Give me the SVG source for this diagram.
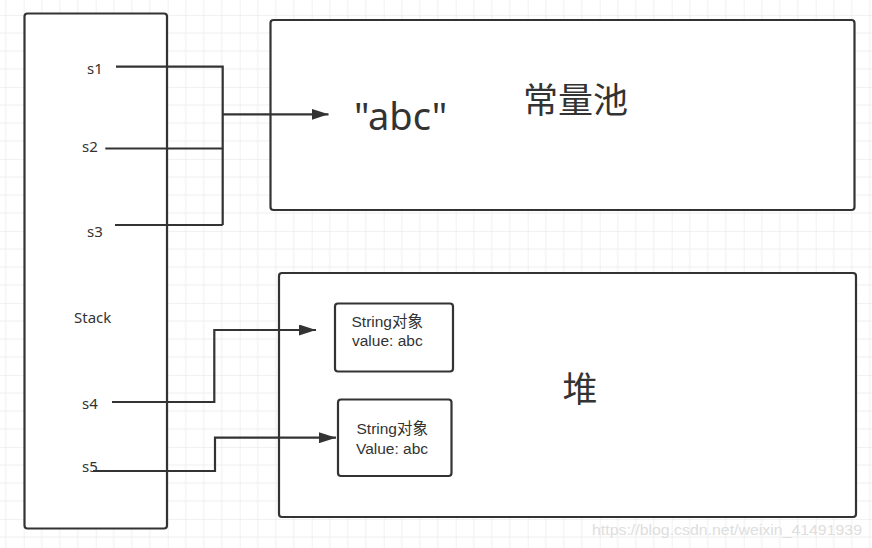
<svg xmlns="http://www.w3.org/2000/svg" width="872" height="548" viewBox="0 0 872 548">
  <defs>
    <pattern id="grid" patternUnits="userSpaceOnUse" x="23.7" y="15" width="72" height="72">
      <path d="M18,0 V72 M36,0 V72 M54,0 V72 M0,18 H72 M0,36 H72 M0,54 H72" stroke="#efefef" stroke-width="1" fill="none"/>
      <path d="M0,0 V72 M0,0 H72" stroke="#e3e3e3" stroke-width="1" fill="none"/>
    </pattern>
    <marker id="arrow" markerUnits="userSpaceOnUse" markerWidth="17" markerHeight="11" refX="17" refY="5.5" orient="auto">
      <path d="M0,0 L17,5.5 L0,11 Z" fill="#333333"/>
    </marker>
  </defs>
  <style>
    .box { fill: #ffffff; stroke: #333333; stroke-width: 2.2; }
    .t { font-family: "Noto Sans", "Noto Sans CJK SC", sans-serif; fill: #333333; }
    .lbl { font-size: 15px; }
    .obj { font-family: "Liberation Sans", "Noto Sans CJK SC", sans-serif; font-size: 15.5px; fill: #333333; }
    .conn { fill: none; stroke: #333333; stroke-width: 2.2; }
  </style>
  <rect x="0" y="0" width="872" height="548" fill="#ffffff"/>
  <rect x="0" y="0" width="872" height="548" fill="url(#grid)"/>

  <g id="stack">
    <rect class="box" x="24.5" y="13.5" width="142.5" height="515" rx="3"/>
    <text class="t lbl" x="74" y="322.5">Stack</text>
    <text class="t lbl" x="87" y="74">s1</text>
    <text class="t lbl" x="82" y="152">s2</text>
    <text class="t lbl" x="87" y="237">s3</text>
    <text class="t lbl" x="82" y="408.5">s4</text>
    <text class="t lbl" x="82" y="472">s5</text>
  </g>

  <g id="constant-pool">
    <rect class="box" x="270.5" y="20" width="584" height="190" rx="3"/>
    <text class="t" x="575.5" y="113" font-size="35" text-anchor="middle">常量池</text>
    <text class="t" x="354" y="130" font-size="38">"abc"</text>
  </g>

  <g id="heap">
    <rect class="box" x="279" y="273" width="577" height="244" rx="3"/>
    <text class="t" x="580" y="402" font-size="35" text-anchor="middle">堆</text>
  </g>

  <g id="string-object-1">
    <rect class="box" x="335" y="303.5" width="118" height="68" rx="3"/>
    <text class="obj" x="351.5" y="326.5">String对象</text>
    <text class="obj" x="352" y="346">value: abc</text>
  </g>

  <g id="string-object-2">
    <rect class="box" x="338" y="399.5" width="113.5" height="76.5" rx="3"/>
    <text class="obj" x="356.5" y="433.5">String对象</text>
    <text class="obj" x="356" y="453.5">Value: abc</text>
  </g>

  <g id="connectors">
    <path class="conn" d="M116,66.7 H222.7 V225"/>
    <path class="conn" d="M105.3,148.5 H222.7"/>
    <path class="conn" d="M115,225 H222.7"/>
    <path class="conn" d="M222.7,114.3 H328.5" marker-end="url(#arrow)"/>
    <path class="conn" d="M112,402 H214.3 V330 H316" marker-end="url(#arrow)"/>
    <path class="conn" d="M93,471 H215 V437.7 H336" marker-end="url(#arrow)"/>
  </g>

  <text x="592" y="535" font-family="Liberation Sans, sans-serif" font-size="15" fill="#dedede" textLength="270" lengthAdjust="spacingAndGlyphs">https://blog.csdn.net/weixin_41491939</text>
</svg>
